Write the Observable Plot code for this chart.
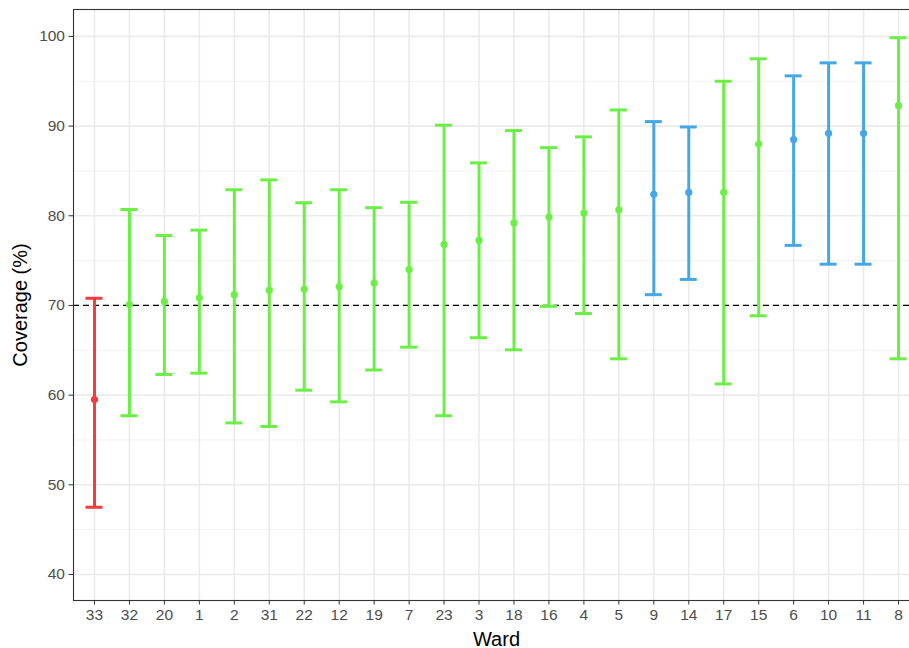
<!DOCTYPE html>
<html>
<head>
<meta charset="utf-8">
<script src="https://cdn.jsdelivr.net/npm/d3@7"></script>
<script src="https://cdn.jsdelivr.net/npm/@observablehq/plot@0.6"></script>
<style>
  html, body { margin: 0; padding: 0; background: #fff; overflow: hidden; }
  #chart { width: 909px; height: 648px; overflow: hidden; }
  #chart svg { display: block; max-width: none; font-family: "Liberation Sans", Arial, sans-serif; }
</style>
</head>
<body>
<div id="chart"></div>
<script>
const wards = ["33","32","20","1","2","31","22","12","19","7","23","3","18","16","4","5","9","14","17","15","6","10","11","8"];
const coverage = [59.5,70.1,70.45,70.85,71.2,71.7,71.8,72.1,72.5,74.0,76.8,77.25,79.2,79.85,80.3,80.65,82.4,82.6,82.6,88.0,88.5,89.2,89.2,92.3];
const lower = [47.5,57.7,62.3,62.45,56.9,56.5,60.55,59.25,62.8,65.35,57.7,66.4,65.05,69.9,69.1,64.05,71.2,72.9,61.25,68.85,76.7,74.6,74.6,64.05];
const upper = [70.8,80.7,77.8,78.4,82.9,84.0,81.45,82.9,80.9,81.5,90.1,85.9,89.5,87.6,88.8,91.8,90.5,89.9,95.0,97.5,95.6,97.05,97.05,99.85];
const group = ["low","mid","mid","mid","mid","mid","mid","mid","mid","mid","mid","mid","mid","mid","mid","mid","high","high","mid","mid","high","high","high","mid"];
const majorTicks = [40,50,60,70,80,90,100];
const minorTicks = [45,55,65,75,85,95];
const target = 70;

const data = wards.map((w, i) => ({ward: w, cov: coverage[i], lo: lower[i], hi: upper[i], grp: group[i]}));

const chart = Plot.plot({
  width: 920,
  height: 648,
  marginLeft: 73,
  marginRight: 1,
  marginTop: 9,
  marginBottom: 48,
  style: {fontFamily: "'Liberation Sans', Arial, sans-serif", background: "#fff", maxWidth: "none"},
  x: {type: "band", domain: wards, paddingInner: 0.514, paddingOuter: 0.357, round: false, axis: null},
  y: {domain: [37.1, 103.0], axis: null},
  color: {domain: ["low","mid","high"], range: ["#F63B3B","#6BEF45","#45A6E8"]},
  marks: [
    Plot.ruleY(minorTicks, {stroke: "#F2F2F2", strokeWidth: 1}),
    Plot.ruleY(majorTicks, {stroke: "#EBEBEB", strokeWidth: 1.6}),
    Plot.ruleX(wards, {x: d => d, stroke: "#EBEBEB", strokeWidth: 1.6}),
    Plot.ruleY([target], {stroke: "#000", strokeWidth: 1.3, strokeDasharray: "6,4"}),
    Plot.ruleX(data, {x: "ward", y1: "lo", y2: "hi", stroke: "grp", strokeWidth: 3}),
    Plot.tickY(data, {x: "ward", y: "lo", stroke: "grp", strokeWidth: 3}),
    Plot.tickY(data, {x: "ward", y: "hi", stroke: "grp", strokeWidth: 3}),
    Plot.dot(data, {x: "ward", y: "cov", fill: "grp", r: 3.6}),
    Plot.frame({stroke: "#333", strokeWidth: 1.1}),
    Plot.axisY(majorTicks, {tickSize: 4.5, tickPadding: 4, stroke: "#333", fill: "#4D4D4D", label: null}),
    Plot.axisX(wards, {tickSize: 4.5, tickPadding: 4, stroke: "#333", fill: "#4D4D4D", label: null}),
    Plot.text(["Ward"], {frameAnchor: "bottom", dy: 45, fontSize: 20, fill: "#000"}),
    Plot.text(["Coverage (%)"], {frameAnchor: "left", textAnchor: "middle", lineAnchor: "middle", dx: -53, rotate: -90, fontSize: 20, fill: "#000"})
  ]
});
// enlarge axis tick labels
chart.querySelectorAll("text").forEach(t => {
  const s = t.textContent;
  if (s !== "Ward" && s !== "Coverage (%)") {
    t.style.fontSize = "15.5px";
  }
});
chart.querySelectorAll("g").forEach(g => {
  const lab = g.getAttribute("aria-label") || "";
  if (lab.includes("tick label")) g.setAttribute("font-size", "15.5");
});
document.getElementById("chart").appendChild(chart);
</script>
</body>
</html>
